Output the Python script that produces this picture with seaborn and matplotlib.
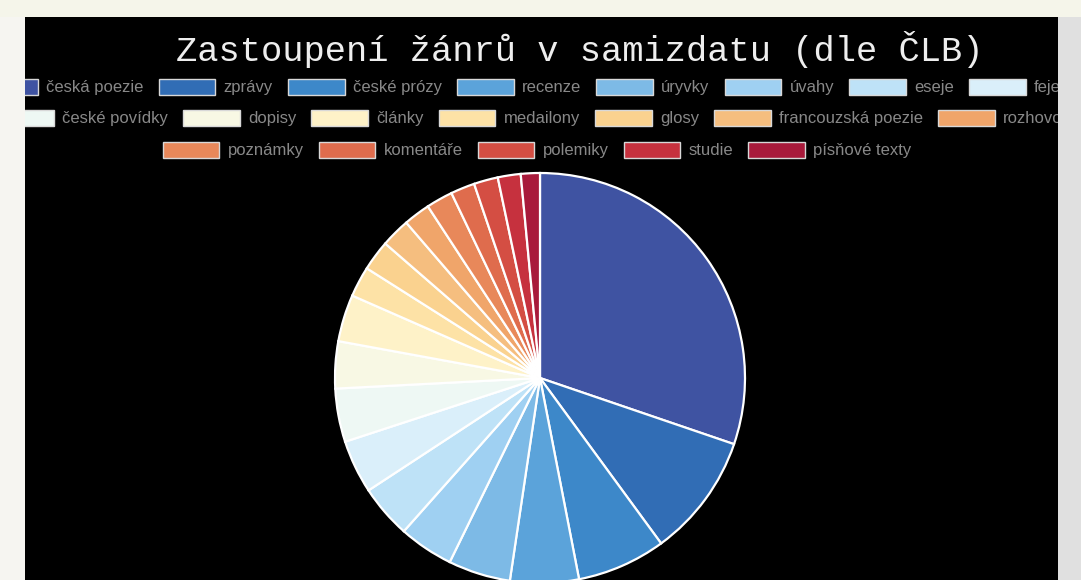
import matplotlib
matplotlib.use('Agg')
from matplotlib import pyplot as plt
from matplotlib.patches import Rectangle, Patch
import seaborn as sns

# genre counts (clockwise from 12 o'clock)
genres = ['česká poezie', 'zprávy', 'české prózy', 'recenze', 'úryvky', 'úvahy',
          'eseje', 'fejetony', 'české povídky', 'dopisy', 'články', 'medailony',
          'glosy', 'francouzská poezie', 'rozhovory', 'poznámky', 'komentáře',
          'polemiky', 'studie', 'písňové texty']
counts = [302, 97, 70, 54, 49, 43, 42, 42, 42, 37, 37, 24, 24, 23, 21, 21, 19, 19, 18, 15]

# legend rows as they wrap in the original
legend_rows = [genres[0:8], genres[8:15], genres[15:20]]

palette_hex = ['#3f53a2', '#316db5', '#3d88c9', '#5ba3da', '#7dbae6', '#9fd0f2',
               '#bee2f7', '#daeffa', '#eef8f4', '#f8f8e4', '#fef2c8', '#fde2a6',
               '#fad28f', '#f5be7f', '#f0a56a', '#e8885a', '#df6c4d', '#d44e43',
               '#c6313e', '#a81a3b']

sns.set_style('dark')
colors = sns.color_palette(palette_hex)
color_of = dict(zip(genres, colors))

W, H = 1081, 580
fig = plt.figure(figsize=(W / 100, H / 100), dpi=100, facecolor='#f5f5ea')

# black panel
bg = fig.add_axes([25 / W, 0, (1058 - 25) / W, (580 - 17) / H])
bg.set_facecolor('black')
bg.set_xticks([])
bg.set_yticks([])
for s in bg.spines.values():
    s.set_visible(False)

# pie
cx, cy, r = 540, 378, 205
ax = fig.add_axes([(cx - r) / W, (H - cy - r) / H, 2 * r / W, 2 * r / H])
wedges, _ = ax.pie(counts, colors=colors, startangle=90, counterclock=False,
                   wedgeprops={'edgecolor': 'white', 'linewidth': 1.6})
for w in wedges:
    w.set_clip_on(False)
ax.set_xlim(-1, 1)
ax.set_ylim(-1, 1)
ax.set_facecolor('none')

fig.text(580 / W, 1 - 49 / H, 'Zastoupení žánrů v samizdatu (dle ČLB)',
         family='Liberation Mono', fontsize=25.5, color='#eeeeee',
         ha='center', va='center')

for row, ypx in zip(legend_rows, [87, 118, 150]):
    handles = [Patch(facecolor=color_of[g], edgecolor='#d8d8d8', linewidth=1.0) for g in row]
    fig.legend(handles, row, loc='center', bbox_to_anchor=(537 / W, 1 - ypx / H),
               ncol=len(row), frameon=False, labelcolor='#888888',
               handlelength=3.4, handleheight=1.1, handletextpad=0.5,
               columnspacing=0.9, prop={'family': 'Liberation Sans', 'size': 12})

# page margins drawn over the clipped legend rows
fig.add_artist(Rectangle((0, 0), 25 / W, 1, transform=fig.transFigure,
                         facecolor='#f6f5f1', edgecolor='none', zorder=10))
fig.add_artist(Rectangle((1058 / W, 0), 1 - 1058 / W, 1, transform=fig.transFigure,
                         facecolor='#e0e0e0', edgecolor='none', zorder=10))
fig.add_artist(Rectangle((0, 1 - 17 / H), 1, 17 / H, transform=fig.transFigure,
                         facecolor='#f5f5ea', edgecolor='none', zorder=10))

plt.savefig('out.png', dpi=100, facecolor=fig.get_facecolor())
